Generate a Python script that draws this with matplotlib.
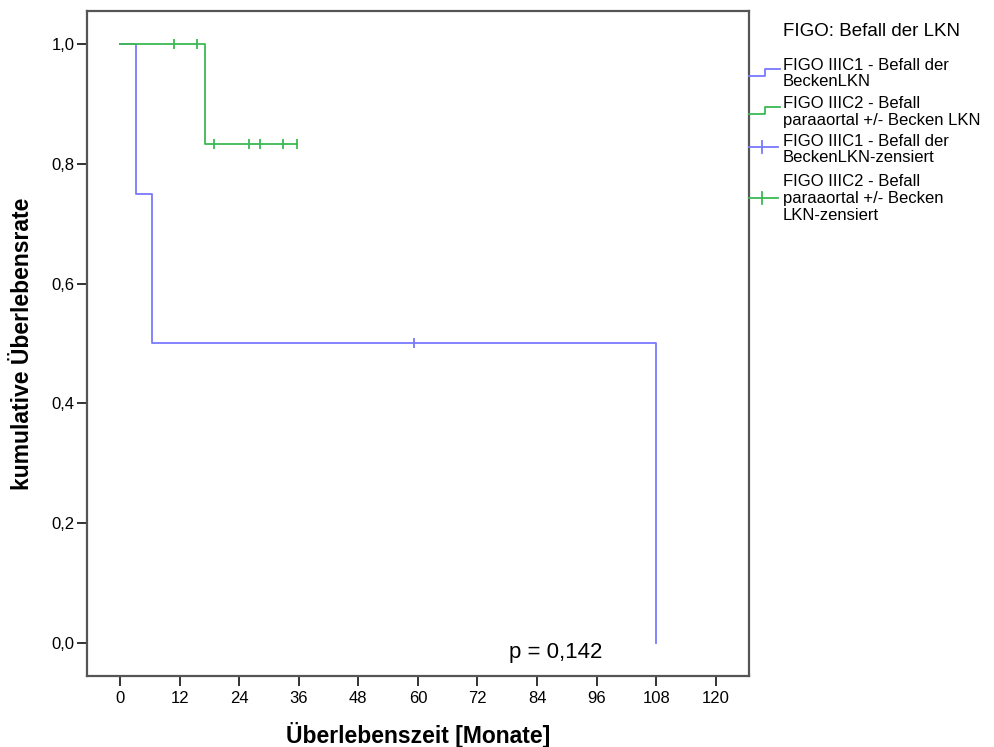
import numpy as np
import matplotlib.pyplot as plt
from matplotlib.lines import Line2D

# survival times (months) and event flags (1 = event, 0 = censored)
times_c1 = [3.3, 6.5, 59.3, 108.0]
events_c1 = [1, 1, 0, 1]
times_c2 = [10.8, 15.6, 17.2, 18.9, 25.9, 28.1, 32.9, 35.6]
events_c2 = [0, 0, 1, 0, 0, 0, 0, 0]

legend_title = 'FIGO: Befall der LKN'
labels = [['FIGO IIIC1 - Befall der', 'BeckenLKN'],
          ['FIGO IIIC2 - Befall', 'paraaortal +/- Becken LKN'],
          ['FIGO IIIC1 - Befall der', 'BeckenLKN-zensiert'],
          ['FIGO IIIC2 - Befall', 'paraaortal +/- Becken', 'LKN-zensiert']]
xticks = [0, 12, 24, 36, 48, 60, 72, 84, 96, 108, 120]
yticks = [0.0, 0.2, 0.4, 0.6, 0.8, 1.0]

blue = '#7878ff'
green = '#3cba54'
fam = ['Liberation Sans', 'DejaVu Sans']


def kaplan_meier(times, events):
    t = np.array(times)
    e = np.array(events)
    order = np.argsort(t)
    t, e = t[order], e[order]
    n = len(t)
    xs, ys = [0.0], [1.0]
    s = 1.0
    cens_x, cens_y = [], []
    for i in range(n):
        at_risk = n - i
        if e[i]:
            s = s * (1 - 1 / at_risk)
        else:
            cens_x.append(t[i])
            cens_y.append(s)
        xs.append(t[i])
        ys.append(s)
    return np.array(xs), np.array(ys), cens_x, cens_y


W, H = 994, 747
fig = plt.figure(figsize=(W / 100, H / 100), dpi=100)
ax = fig.add_axes([87 / W, 1 - 676 / H, (749 - 87) / W, (676 - 11) / H])

for times, events, col in [(times_c1, events_c1, blue), (times_c2, events_c2, green)]:
    xs, ys, cx, cy = kaplan_meier(times, events)
    ax.step(xs, ys, where='post', color=col, lw=1.3)
    ax.plot(cx, cy, ls='none', marker='|', ms=7, mew=1.3, color=col)

ax.set_xlim(-6.66, 126.7)
ax.set_ylim(-0.055, 1.055)
ax.set_xticks(xticks)
ax.set_xticklabels([str(v) for v in xticks], family=fam, fontsize=12)
ax.set_yticks(yticks)
ax.set_yticklabels([f'{v:.1f}'.replace('.', ',') for v in yticks], family=fam, fontsize=12)
ax.tick_params(direction='out', length=7.5, width=1.4, color='#333333')
ax.tick_params(axis='x', pad=3.5)
ax.tick_params(axis='y', pad=1.5)
for sp in ax.spines.values():
    sp.set_color('#555555')
    sp.set_linewidth(1.6)

ax.set_xlabel('Überlebenszeit [Monate]', family=fam, fontsize=16.5, fontweight='bold', va='center')
ax.xaxis.set_label_coords(0.5, -0.0887)
ax.set_ylabel('kumulative Überlebensrate', family=fam, fontsize=16.5, fontweight='bold', va='center')
ax.yaxis.set_label_coords(-0.098, 0.5)

ax.text(0.708, 0.035, 'p = 0,142', transform=ax.transAxes, family=fam, fontsize=16, ha='center', va='center')


# legend drawn by hand in pixel coordinates
def fx(px):
    return px / W


def fy(py):
    return 1 - py / H


fig.text(fx(783), fy(32), legend_title, family=fam, fontsize=13.5, va='center')
line_y = [[66, 82], [104, 121], [141, 157], [182, 199, 215]]
for i, lab in enumerate(labels):
    col = blue if i % 2 == 0 else green
    for txt, py in zip(lab, line_y[i]):
        fig.text(fx(783), fy(py), txt, family=fam, fontsize=12, va='center')
    if i < 2:
        lo, hi = line_y[i][0] + 10, line_y[i][0] + 3
        fig.add_artist(Line2D([fx(749), fx(765), fx(765), fx(780)], [fy(lo), fy(lo), fy(hi), fy(hi)],
                              color=col, lw=1.3))
    else:
        yy = line_y[i][0] + 6 if i == 2 else line_y[i][1] - 1
        fig.add_artist(Line2D([fx(749), fx(778)], [fy(yy), fy(yy)], color=col, lw=1.3))
        fig.add_artist(Line2D([fx(762), fx(762)], [fy(yy - 6), fy(yy + 6)], color=col, lw=1.3))

fig.savefig('out.png', dpi=100)
